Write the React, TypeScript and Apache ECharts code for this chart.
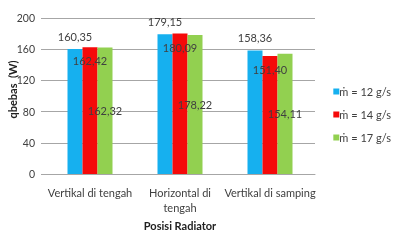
import React, { useEffect, useRef } from "react";
import * as echarts from "echarts";

const categories = ["Vertikal di tengah", "Horizontal di\ntengah", "Vertikal di samping"];
const seriesNames = ["ṁ = 12 g/s", "ṁ = 14 g/s", "ṁ = 17 g/s"];
const values12 = [160.35, 179.15, 158.36];
const values14 = [162.42, 180.09, 151.4];
const values17 = [162.32, 178.22, 154.11];
const colors = ["#16b0ef", "#f50a0a", "#92d050"];
const yTicks = { min: 0, max: 200, interval: 40 };

const FONT = "Lato, 'Noto Sans', sans-serif";

export default function App() {
  const ref = useRef<HTMLDivElement>(null);
  useEffect(() => {
    if (!ref.current) return;
    const chart = echarts.init(ref.current, undefined, { renderer: "svg" });
    const fmt = (p: any) => Number(p.value).toFixed(2).replace(".", ",");
    const labelBase = { show: true, color: "#404040", fontSize: 11, fontFamily: FONT, formatter: fmt };
    const data = [values12, values14, values17];
    const positions: any[] = [
      { position: "top", distance: 7 },
      { position: "insideTop", distance: 8 },
      { position: "inside" },
    ];
    chart.setOption({
      animation: false,
      textStyle: { fontFamily: FONT },
      grid: { left: 45, right: 78, top: 18, bottom: 66, outerBoundsMode: "none", containLabel: false },
      legend: {
        orient: "vertical",
        right: 2,
        top: 86,
        padding: 0,
        itemWidth: 6,
        itemHeight: 6,
        itemGap: 12,
        icon: "rect",
        textStyle: {
          fontSize: 11,
          color: "#404040",
          fontFamily: FONT,
          padding: [0, 0, 0, -5],
          overflow: "none",
        },
        data: seriesNames,
      },
      xAxis: {
        type: "category",
        data: categories,
        name: "Posisi Radiator",
        nameLocation: "middle",
        nameGap: 46,
        nameTextStyle: { fontSize: 11, fontWeight: "bold", color: "#202020", fontFamily: FONT },
        axisLine: { lineStyle: { color: "#a6a6a6" } },
        axisTick: { show: false },
        axisLabel: { fontSize: 11, color: "#404040", margin: 11, lineHeight: 15, interval: 0, fontFamily: FONT },
      },
      yAxis: {
        type: "value",
        min: yTicks.min,
        max: yTicks.max,
        interval: yTicks.interval,
        name: "qbebas  (W)",
        nameLocation: "middle",
        nameGap: 27,
        nameMoveOverlap: false,
        nameTextStyle: {
          fontSize: 11,
          fontWeight: "bold",
          color: "#202020",
          fontFamily: FONT,
          padding: [0, 0, 0, 13],
        },
        axisLine: { show: false },
        axisTick: { show: true, length: 4, lineStyle: { color: "#a6a6a6" } },
        axisLabel: { fontSize: 10.5, color: "#404040", margin: 10, fontFamily: FONT },
        splitLine: { lineStyle: { color: "#a6a6a6" } },
      },
      series: seriesNames.map((name, i) => ({
        name,
        type: "bar",
        data: data[i],
        barGap: "0%",
        barCategoryGap: "50%",
        itemStyle: { color: colors[i] },
        label: { ...labelBase, ...positions[i] },
      })),
    });
    return () => chart.dispose();
  }, []);
  return (
    <div
      ref={ref}
      style={{ position: "fixed", left: 0, top: 0, width: 393, height: 240, overflow: "hidden" }}
    />
  );
}
